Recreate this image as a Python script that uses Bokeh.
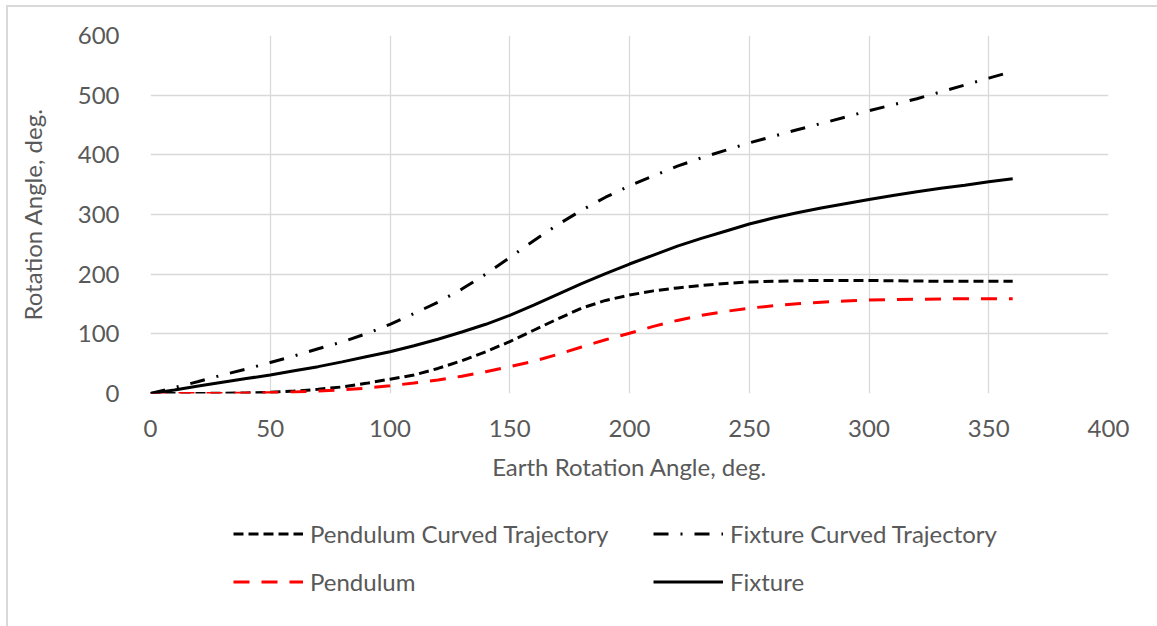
from bokeh.plotting import figure
from bokeh.layouts import column
from bokeh.models import Legend, LegendItem, FixedTicker
from bokeh.embed import file_html
from bokeh.resources import INLINE

earth_angle = [0, 10, 20, 30, 40, 50, 60, 70, 80, 90, 100, 110, 120, 130, 140, 150, 160, 170, 180,
               190, 200, 210, 220, 230, 240, 250, 260, 270, 280, 290, 300, 310, 320, 330, 340, 350, 360]

pendulum_curved = [0, 0, 0, 0.5, 1, 2, 4, 7, 11, 17, 24, 31, 42, 55, 70, 87, 106, 125, 143, 156,
                   165, 172, 177, 181, 184.5, 187, 188, 189, 189.5, 189.5, 189.3, 189, 188.5, 188, 188, 188, 188]
fixture_curved = [0, 10, 20, 31, 41, 52, 63, 75, 86.5, 100, 116, 134, 153, 175, 200, 228, 256, 283, 307,
                  329, 348, 365, 381, 395, 407.5, 420, 431, 442, 452.5, 463, 474, 484, 494, 505.5, 517, 528.5, 540]
pendulum = [0, 0, 0, 0.3, 0.7, 1.5, 2.5, 4, 6, 9, 13, 17.5, 22.5, 29, 36.5, 45, 54, 65.5, 78, 90,
            101, 112.5, 122.5, 131, 137.5, 143, 147, 150.5, 153, 155, 156.5, 157.5, 158, 158.5, 159, 159, 159]
fixture = [0, 6, 12.5, 19, 25, 31, 38, 45, 53, 61.5, 70, 80, 91, 103, 116, 131, 148, 166, 184, 201,
           217, 232, 247, 260, 272, 284, 294, 303, 311, 318, 325, 332, 338, 344, 349, 355, 360]

series_names = ["Pendulum Curved Trajectory", "Fixture Curved Trajectory", "Pendulum", "Fixture"]

x_ticks = [0, 50, 100, 150, 200, 250, 300, 350, 400]
y_ticks = [0, 100, 200, 300, 400, 500, 600]

FONT = "Lato"
TXT = "#595959"
GRID = "#d9d9d9"

STYLES = {
    "pct": dict(line_color="black", line_width=3, line_dash="10 5"),
    "fct": dict(line_color="black", line_width=3, line_dash="15 12 2 12"),
    "p": dict(line_color="#ff0000", line_width=3, line_dash="16 12"),
    "f": dict(line_color="black", line_width=3),
}

p = figure(frame_width=958, frame_height=358, x_range=(0, 400), y_range=(0, 600),
           output_backend="svg", toolbar_location=None,
           min_border_left=150, min_border_right=49, min_border_top=35, min_border_bottom=100)
p.outline_line_color = None
p.background_fill_color = "white"
p.border_fill_alpha = 0

for ax in (p.xaxis[0], p.yaxis[0]):
    ax.axis_line_color = None
    ax.major_tick_line_color = None
    ax.minor_tick_line_color = None
    ax.major_label_text_font = FONT
    ax.major_label_text_font_size = "24px"
    ax.major_label_text_color = TXT
    ax.axis_label_text_font = FONT
    ax.axis_label_text_font_size = "24px"
    ax.axis_label_text_color = TXT
    ax.axis_label_text_font_style = "normal"

p.xaxis.ticker = FixedTicker(ticks=x_ticks)
p.yaxis.ticker = FixedTicker(ticks=y_ticks)
p.xaxis.axis_label = "Earth Rotation Angle, deg."
p.yaxis.axis_label = "Rotation Angle, deg."
p.xaxis.major_label_standoff = 20
p.yaxis.major_label_standoff = 25
p.xaxis.axis_label_standoff = 12
p.yaxis.axis_label_standoff = 28

p.xgrid.ticker = FixedTicker(ticks=x_ticks)
p.ygrid.ticker = FixedTicker(ticks=y_ticks)
for g in (p.xgrid[0], p.ygrid[0]):
    g.grid_line_color = GRID
    g.grid_line_width = 1.3

p.line(earth_angle, pendulum_curved, **STYLES["pct"])
p.line(earth_angle, fixture_curved, **STYLES["fct"])
p.line(earth_angle, pendulum, **STYLES["p"])
p.line(earth_angle, fixture, **STYLES["f"])

# legend strip below the chart (its frame is aligned with the chart's frame)
lf = figure(width=1157, height=133, x_range=(0, 1), y_range=(0, 1),
            output_backend="svg", toolbar_location=None,
            x_axis_type=None, y_axis_type=None,
            min_border_left=150, min_border_right=49, min_border_top=0, min_border_bottom=0)
lf.outline_line_color = None
lf.grid.visible = False
lf.background_fill_alpha = 0
lf.border_fill_alpha = 0

NAN = float("nan")
k_pct = lf.line([NAN, NAN], [NAN, NAN], **STYLES["pct"])
k_fct = lf.line([NAN, NAN], [NAN, NAN], **STYLES["fct"])
k_p = lf.line([NAN, NAN], [NAN, NAN], **STYLES["p"])
k_f = lf.line([NAN, NAN], [NAN, NAN], **STYLES["f"])


def make_legend(items, loc):
    lg = Legend(items=items, orientation="horizontal", location=loc)
    lg.label_text_font = FONT
    lg.label_text_font_size = "24px"
    lg.label_text_color = TXT
    lg.glyph_width = 70
    lg.glyph_height = 29
    lg.label_width = 310
    lg.label_standoff = 7
    lg.spacing = 33
    lg.padding = 0
    lg.margin = 0
    lg.border_line_color = None
    lg.background_fill_alpha = 0
    return lg


lf.add_layout(make_legend([
    LegendItem(label=series_names[0], renderers=[k_pct]),
    LegendItem(label=series_names[1], renderers=[k_fct]),
], (83, 78)))
lf.add_layout(make_legend([
    LegendItem(label=series_names[2], renderers=[k_p]),
    LegendItem(label=series_names[3], renderers=[k_f]),
], (83, 30)))

layout = column(p, lf, spacing=0)
layout.styles = {
    "background-color": "white",
    "background-image": "linear-gradient(#d9d9d9, #d9d9d9), linear-gradient(#d9d9d9, #d9d9d9)",
    "background-size": "2px 100%, 100% 2px",
    "background-position": "6px 5px, 6px 5px",
    "background-repeat": "no-repeat",
}

open("out.html", "w").write(file_html(layout, INLINE))
